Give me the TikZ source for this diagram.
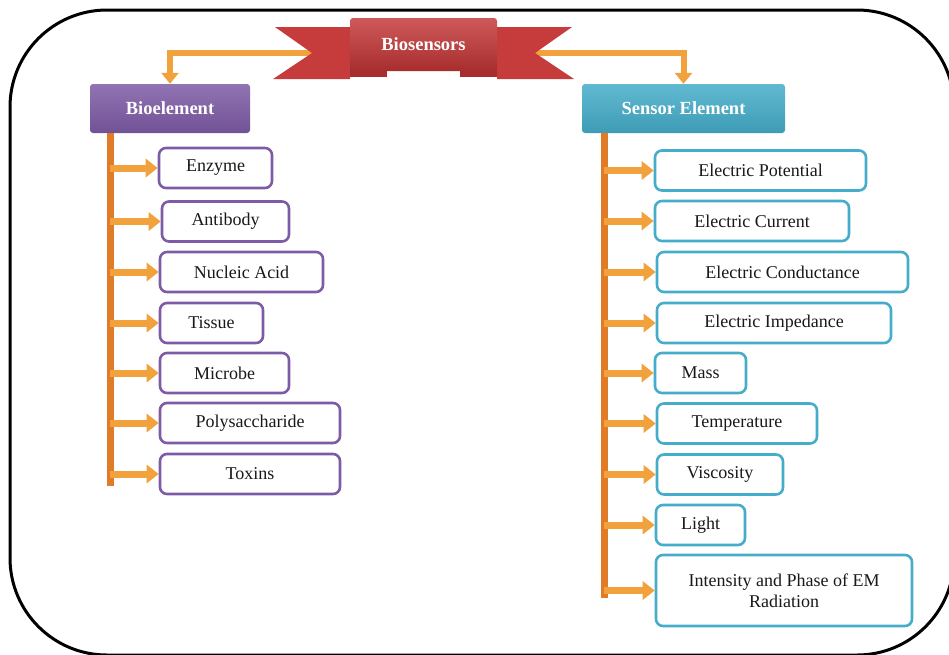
\documentclass[tikz,border=0pt]{standalone}
\usepackage{fontspec}
\setmainfont{Liberation Serif}
\usetikzlibrary{arrows.meta}

\definecolor{bioviolet}{HTML}{7E5BA6}
\definecolor{sensorcyan}{HTML}{45ADC9}
\definecolor{ribbonred}{HTML}{C63C3C}
\definecolor{ribbondark}{HTML}{A82E2E}
\definecolor{pipeorange}{HTML}{F2A23C}
\definecolor{bardark}{HTML}{E07C28}

\tikzset{
  item/.style={fill=white, line width=2.6pt, rounded corners=7pt, minimum height=40pt,
    inner sep=2pt, text=black!90, font=\fontsize{18}{21}\selectfont},
  bioitem/.style={item, draw=bioviolet},
  sensitem/.style={item, draw=sensorcyan},
  headbox/.style={rounded corners=3pt, minimum height=49pt, text=white,
    font=\bfseries\fontsize{18.5}{21}\selectfont},
  pipe/.style={draw=pipeorange, line width=6pt, -{Triangle[length=11pt,width=17pt]}},
  branch/.style={draw=pipeorange, line width=7pt, -{Triangle[length=12pt,width=18pt]}},
  bar/.style={draw=bardark, line width=7pt},
}

\begin{document}
\begin{tikzpicture}[x=1pt,y=-1pt]
\clip (0,0) rectangle (949,654);
\fill[white] (0,0) rectangle (949,654);
\draw[line width=3pt, rounded corners=97pt] (10,10) rectangle (954,655);

% headers
\node[headbox, minimum width=160pt, top color=bioviolet!85!white, bottom color=bioviolet!90!black] (bioel) at (170,108.5) {Bioelement};
\node[headbox, minimum width=203pt, top color=sensorcyan!85!white, bottom color=sensorcyan!90!black] (sens) at (683.5,108.5) {Sensor Element};

% ribbon
\coordinate (lnotch) at (312,53);
\coordinate (rnotch) at (535,53);
\draw[pipe] (lnotch) -| (bioel.north);
\draw[pipe] (rnotch) -| (sens.north);
\fill[ribbonred] (275,27) -- (350,27) -- (350,79) -- (273,79) -- (lnotch) -- cycle;
\fill[ribbonred] (572,27) -- (497,27) -- (497,79) -- (574,79) -- (rnotch) -- cycle;
\fill[ribbondark] (350,64) rectangle (387,77);
\fill[ribbondark] (460,64) rectangle (497,77);
\node[rounded corners=3pt, minimum width=147pt, minimum height=53pt, top color=ribbonred!85!white, bottom color=ribbondark,
  text=white, font=\bfseries\fontsize{18.5}{21}\selectfont] (bios) at (423.5,44.5) {Biosensors};

% bioelement items
\node[bioitem, minimum width=113pt] (enz) at (215.5,168) {Enzyme};
\node[bioitem, minimum width=127pt] (ant) at (225.5,221.5) {Antibody};
\node[bioitem, minimum width=163pt] (nuc) at (241.5,272) {Nucleic Acid};
\node[bioitem, minimum width=103pt] (tis) at (211.5,323) {Tissue};
\node[bioitem, minimum width=129pt] (mic) at (224.5,373) {Microbe};
\node[bioitem, minimum width=180pt] (pol) at (250,423) {Polysaccharide};
\node[bioitem, minimum width=180pt] (tox) at (250,474) {Toxins};

% sensor element items
\node[sensitem, minimum width=211pt] (pot) at (760.5,170.5) {Electric Potential};
\node[sensitem, minimum width=194pt] (cur) at (752,221) {Electric Current};
\node[sensitem, minimum width=251pt] (cond) at (782.5,272) {Electric Conductance};
\node[sensitem, minimum width=234pt] (imp) at (774,323) {Electric Impedance};
\node[sensitem, minimum width=91pt] (mass) at (700.5,373) {Mass};
\node[sensitem, minimum width=160pt] (temp) at (737,423.5) {Temperature};
\node[sensitem, minimum width=126pt] (visc) at (720,474.5) {Viscosity};
\node[sensitem, minimum width=89pt] (light) at (700.5,525) {Light};
\node[sensitem, minimum width=256pt, minimum height=71pt, align=center] (emr) at (784,590.5) {Intensity and Phase of EM\\Radiation};

% bars and branches
\coordinate (ltop) at (110,133);
\coordinate (lend) at (110,486);
\coordinate (rtop) at (604,133);
\coordinate (rend) at (604,598);
\draw[bar] (ltop) -- (lend);
\draw[bar] (rtop) -- (rend);
\foreach \n in {enz,ant,nuc,tis,mic,pol,tox}
  \draw[branch] (ltop |- \n.west) -- (\n.west);
\foreach \n in {pot,cur,cond,imp,mass,temp,visc,light,emr}
  \draw[branch] (rtop |- \n.west) -- (\n.west);
\end{tikzpicture}
\end{document}
